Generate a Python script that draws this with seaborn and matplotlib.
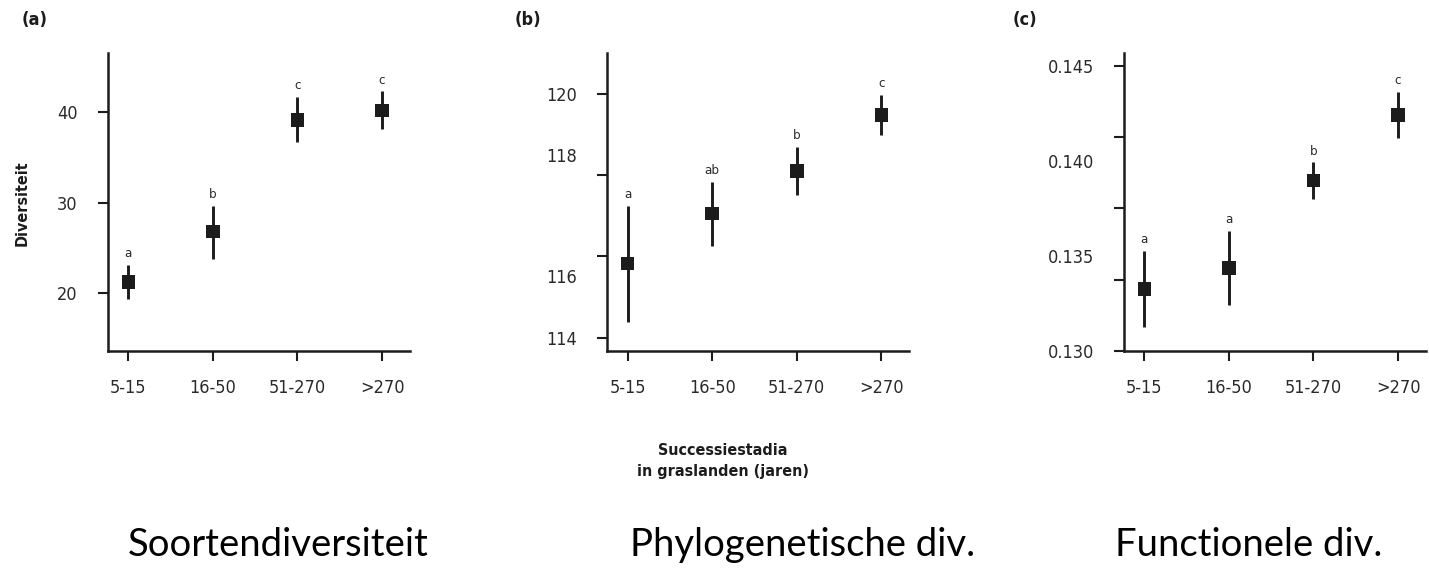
import numpy as np
import pandas as pd
import seaborn as sns
import matplotlib.pyplot as plt

# successional stages (years)
stages = ["5-15", "16-50", "51-270", ">270"]

# (a) species diversity
a_mean = [21.2, 26.8, 39.15, 40.2]
a_low = [19.3, 23.8, 36.7, 38.1]
a_high = [23.1, 29.65, 41.65, 42.3]
a_letters = ["a", "b", "c", "c"]

# (b) phylogenetic diversity
b_mean = [115.83, 117.06, 118.10, 119.48]
b_low = [114.38, 116.26, 117.51, 119.0]
b_high = [117.24, 117.83, 118.70, 119.98]
b_letters = ["a", "ab", "b", "c"]

# (c) functional diversity
c_mean = [0.13326, 0.13436, 0.13897, 0.14239]
c_low = [0.13125, 0.13243, 0.13799, 0.14118]
c_high = [0.13527, 0.13629, 0.13991, 0.14360]
c_letters = ["a", "a", "b", "c"]

titles = ["Soortendiversiteit", "Phylogenetische div.", "Functionele div."]

sns.set_theme(style="ticks")
plt.rcParams["font.family"] = ["DejaVu Sans"]
plt.rcParams["font.stretch"] = "condensed"
ink = "#1c1c1c"
txt = "#2a2a2a"

fig = plt.figure(figsize=(14.29, 5.71), dpi=100)
lefts = [108 / 1429, 607.3 / 1429, 1124 / 1429]
bottom, height, width = 1 - 351 / 571, (351 - 53) / 571, 302 / 1429

panels = [
    (a_mean, a_low, a_high, a_letters, (13.6, 46.55)),
    (b_mean, b_low, b_high, b_letters, (113.67, 121.01)),
    (c_mean, c_low, c_high, c_letters, (0.13021, 0.14566)),
]

axes = []
for i, (mean, low, high, letters, ylim) in enumerate(panels):
    ax = fig.add_axes([lefts[i], bottom, width, height])
    axes.append(ax)
    df = pd.DataFrame({"stage": stages, "value": mean, "lo": low, "hi": high})
    ax.vlines(df["stage"], df["lo"], df["hi"], color=ink, lw=2.1, zorder=2)
    sns.scatterplot(data=df, x="stage", y="value", marker="s", s=95,
                    color=ink, edgecolor="none", ax=ax, zorder=3)
    for st, hi, let in zip(stages, high, letters):
        ax.annotate(let, (st, hi), xytext=(0, 3.5), textcoords="offset points",
                    ha="center", va="bottom", fontsize=9.5, color=txt)
    ax.set_xlim(-0.24, 3.33)
    ax.set_ylim(*ylim)
    ax.set_xlabel("")
    ax.set_ylabel("")
    sns.despine(ax=ax)
    for s in ["left", "bottom"]:
        ax.spines[s].set_linewidth(1.8)
        ax.spines[s].set_color(ink)
    ax.yaxis.remove_overlapping_locs = False
    ax.tick_params(axis="both", which="major", length=7.2, width=1.5,
                   color=ink, labelsize=13, labelcolor=txt)
    ax.tick_params(axis="x", pad=13)
    ax.tick_params(axis="y", which="major", pad=14.5)
    ax.tick_params(axis="y", which="minor", length=0, pad=21.7,
                   labelsize=13, labelcolor=txt)

# (a) ticks
axes[0].set_yticks([20, 30, 40])
axes[0].set_yticklabels(["20", "30", "40"])

# (b) tick marks and their (shifted) labels
axes[1].set_yticks([114, 116, 118, 120])
axes[1].set_yticklabels([])
axes[1].set_yticks([114, 115.52, 118.5, 120], minor=True)
axes[1].set_yticklabels(["114", "116", "118", "120"], minor=True)

# (c) tick marks and labels
axes[2].set_yticks(np.linspace(0.130, 0.145, 5))
axes[2].set_yticklabels([])
axes[2].set_yticks([0.130, 0.135, 0.140, 0.145], minor=True)
axes[2].set_yticklabels(["0.130", "0.135", "0.140", "0.145"], minor=True)

axes[0].set_ylabel("Diversiteit", fontsize=11.5, fontweight="bold", color=ink)
axes[0].yaxis.set_label_coords(-0.258, 0.497)

for x, lab in zip([22, 515, 1013], ["(a)", "(b)", "(c)"]):
    fig.text(x / 1429, 1 - 20 / 571, lab, ha="left", va="center",
             fontsize=13, fontweight="bold", color=ink)

fig.text(723 / 1429, 1 - 461 / 571, "Successiestadia\nin graslanden (jaren)",
         ha="center", va="center", multialignment="center",
         fontsize=11.5, fontweight="bold", color=ink, linespacing=1.45)

for cx, t in zip([278, 803, 1249], titles):
    fig.text(cx / 1429, 1 - 545 / 571, t, ha="center", va="center",
             fontsize=27.5, family="Lato", stretch="normal", color="black")

fig.savefig("out.png", dpi=100)
